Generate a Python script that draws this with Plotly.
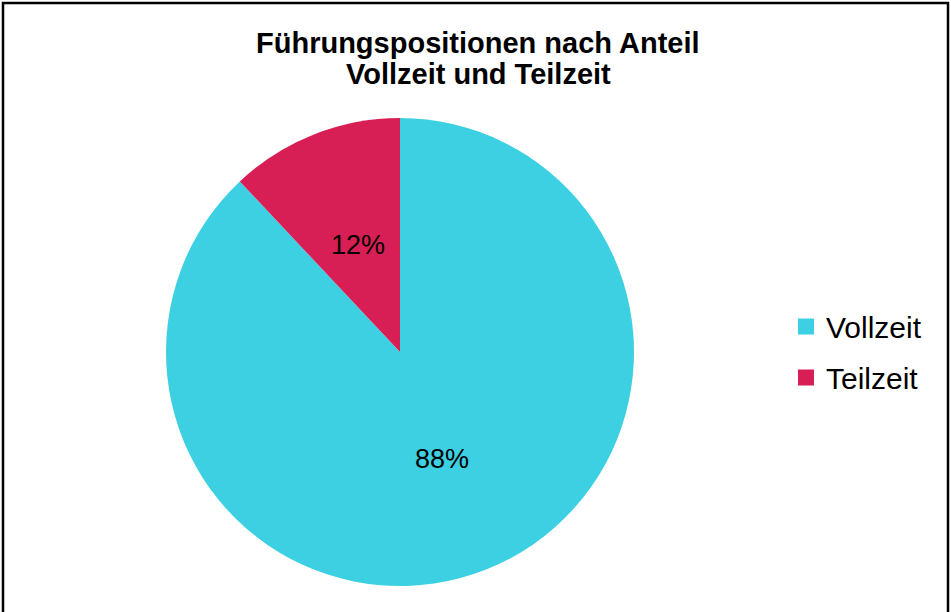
import math
import plotly.graph_objects as go

labels = ["Vollzeit", "Teilzeit"]
values = [88, 12]
colors = ["#3DD0E3", "#D81F55"]
title_lines = ["Führungspositionen nach Anteil", "Vollzeit und Teilzeit"]

W, H = 951, 612
FONT = "Liberation Sans, Arial"
CX, CY, R = 400, 352, 234  # pie centre / radius in px (layout)

fig = go.Figure()
fig.add_trace(go.Pie(
    labels=labels,
    values=values,
    sort=False,
    direction="clockwise",
    rotation=0,
    marker=dict(colors=colors, line=dict(width=0)),
    textinfo="none",
    domain=dict(x=[(CX - R) / W, (CX + R) / W], y=[(H - CY - R) / H, (H - CY + R) / H]),
    showlegend=False,
))

# legend entries (one per category)
for i, (lab, col) in enumerate(zip(labels, colors)):
    fig.add_trace(go.Scatter(
        x=[None], y=[None], mode="markers", name=lab,
        marker=dict(symbol="square", size=16, color=col),
        legendgroup=f"g{i}", showlegend=True, hoverinfo="skip",
    ))

annotations = []
# percentage labels placed from the values
total = sum(values)
cum = 0
for v in values:
    mid = (cum + v / 2) / total * 2 * math.pi
    cum += v
    px = CX + 0.49 * R * math.sin(mid)
    py = CY - 0.49 * R * math.cos(mid)
    annotations.append(dict(
        text=f"{round(v / total * 100)}%", x=px / W, y=1 - py / H,
        xref="paper", yref="paper", xanchor="center", yanchor="middle",
        showarrow=False, font=dict(family=FONT, size=27, color="black")))

title_y = [43, 74]
for t, yy in zip(title_lines, title_y):
    annotations.append(dict(
        text="<b>" + t + "</b>", x=478 / W, y=1 - yy / H, xref="paper", yref="paper",
        xanchor="center", yanchor="middle", showarrow=False,
        font=dict(family=FONT, size=29, color="black")))

fig.update_layout(
    width=W, height=H,
    margin=dict(l=0, r=0, t=0, b=0),
    paper_bgcolor="white",
    plot_bgcolor="white",
    xaxis=dict(visible=False),
    yaxis=dict(visible=False),
    annotations=annotations,
    legend=dict(
        x=786 / W, xanchor="left",
        y=1 - 352 / H, yanchor="middle",
        font=dict(family=FONT, size=30, color="black"),
        bgcolor="rgba(0,0,0,0)",
        itemwidth=30,
        traceorder="grouped",
        tracegroupgap=9,
    ),
    shapes=[dict(
        type="rect", xref="paper", yref="paper",
        x0=3 / W, x1=948 / W, y0=-0.02, y1=1 - 3 / H,
        line=dict(color="black", width=2.5),
        fillcolor="rgba(0,0,0,0)",
    )],
)

fig.write_html("out.html", config={"displayModeBar": False},
               post_script="document.body.style.margin='0';document.body.style.padding='0';")
